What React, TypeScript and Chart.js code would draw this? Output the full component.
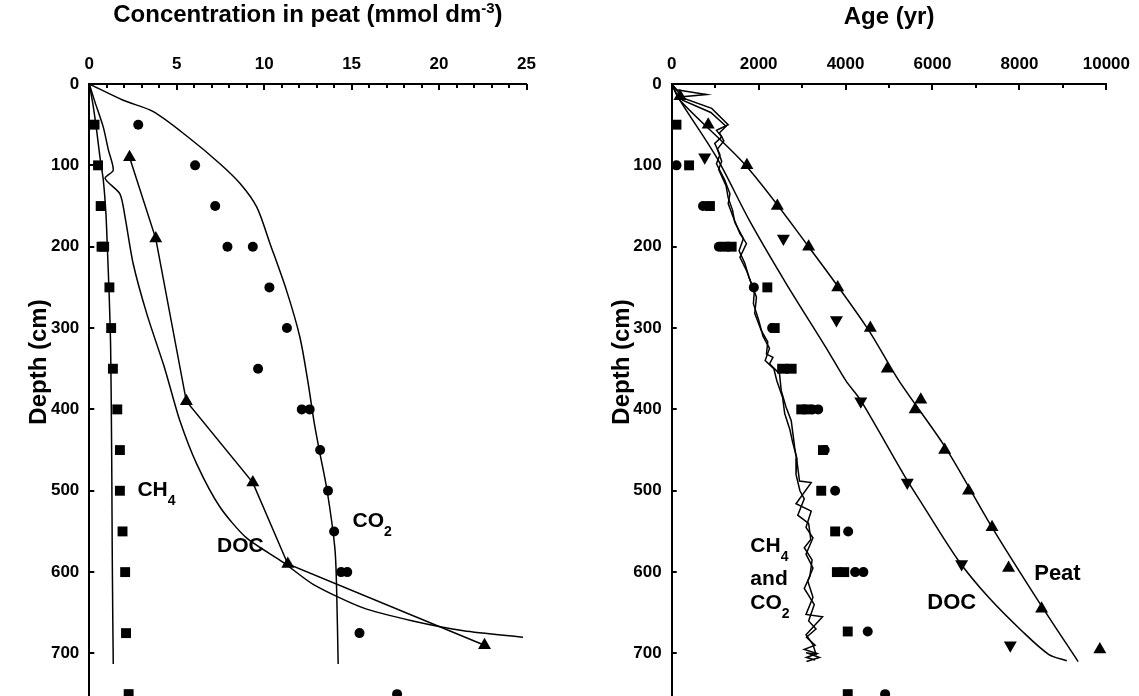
import React, { useEffect, useRef } from 'react';
import { Chart, registerables } from 'chart.js';
Chart.register(...registerables);

const FONT = '"Liberation Sans", Arial, Helvetica, sans-serif';

// ---------------- Left panel: concentration in peat ----------------
const concCH4Depth = [50, 100, 150, 200, 200, 250, 300, 350, 400, 450, 500, 550, 600, 675, 750];
const concCH4 = [0.3, 0.5, 0.65, 0.7, 0.85, 1.15, 1.25, 1.35, 1.6, 1.75, 1.75, 1.9, 2.05, 2.1, 2.25];

const concCO2Depth = [50, 100, 150, 200, 200, 250, 300, 350, 400, 400, 450, 500, 550, 600, 600, 675, 750];
const concCO2 = [2.8, 6.05, 7.2, 7.9, 9.35, 10.3, 11.3, 9.65, 12.15, 12.6, 13.2, 13.65, 14.0, 14.4, 14.75, 15.45, 17.6];

const concDOCDepth = [90, 190, 390, 490, 590, 690];
const concDOC = [2.3, 3.8, 5.55, 9.35, 11.35, 22.6];

const modelCH4Depth = [0, 28, 57, 90, 118, 159, 200, 262, 324, 430, 490, 570, 650, 713];
const modelCH4 = [0, 0.23, 0.42, 0.61, 0.8, 0.95, 1.03, 1.14, 1.22, 1.27, 1.29, 1.31, 1.34, 1.37];

const modelDOCDepth = [0, 22, 53, 81, 106, 116, 135, 163, 221, 282, 344, 365, 414, 467, 520, 558, 588, 615, 644, 660, 672, 680];
const modelDOC = [0, 0.32, 0.8, 1.09, 1.37, 0.9, 1.75, 2.04, 2.51, 3.28, 4.23, 4.52, 5.18, 6.14, 7.47, 8.99, 11.09, 12.8, 15.66, 18.5, 21.4, 24.8];

const modelCO2Depth = [0, 20, 34, 67, 98, 122, 151, 196, 254, 311, 366, 415, 450, 500, 570, 619, 713];
const modelCO2 = [0, 1.94, 3.66, 5.75, 7.47, 8.61, 9.57, 10.33, 11.28, 12.04, 12.5, 12.85, 13.15, 13.6, 14.04, 14.14, 14.23];

const concTickMax = 25;
const concTickStep = 5;
const concMinorStep = 1;

// ---------------- Right panel: age ----------------
const ageCH4Depth = [50, 100, 150, 200, 200, 250, 300, 350, 350, 400, 400, 450, 500, 550, 600, 600, 673, 750];
const ageCH4 = [110, 400, 880, 1220, 1380, 2200, 2370, 2540, 2760, 2980, 3120, 3480, 3440, 3760, 3800, 3970, 4050, 4050];

const ageCO2Depth = [100, 150, 200, 250, 300, 350, 400, 400, 450, 500, 550, 600, 600, 673, 750];
const ageCO2 = [110, 720, 1085, 1890, 2310, 2650, 3240, 3370, 3520, 3760, 4060, 4220, 4410, 4510, 4910];

const agePeatDepth = [15, 50, 100, 150, 200, 250, 300, 350, 388, 400, 450, 500, 545, 595, 645, 695];
const agePeat = [190, 840, 1730, 2430, 3150, 3820, 4570, 4960, 5730, 5600, 6280, 6830, 7370, 7750, 8510, 9850];

const ageDOCDepth = [90, 190, 290, 390, 490, 590, 690];
const ageDOC = [760, 2570, 3790, 4350, 5420, 6670, 7790];

const peatModelDepth = [0, 20, 100, 200, 300, 365, 447, 545, 636, 710];
const peatModelAge = [0, 190, 1700, 3150, 4500, 5230, 6300, 7370, 8440, 9350];

const docModelDepth = [0, 20, 90, 168, 245, 324, 365, 389, 484, 517, 586, 631, 672, 701, 709];
const docModelAge = [0, 190, 1030, 1790, 2630, 3550, 4010, 4350, 5380, 5770, 6600, 7290, 8050, 8670, 9090];

const ch4AgeLineDepth = [0, 7, 13, 16, 30, 50, 57, 65, 73, 87, 98, 118, 135, 147, 163, 184, 196, 213, 229, 245, 262, 282, 303, 317, 332, 336, 344, 356, 377, 397, 414, 447, 471, 488, 490, 516, 525, 545, 558, 578, 595, 611, 631, 652, 655, 677, 689, 701, 699, 705, 710];
const ch4AgeLine = [0, 115, 800, 190, 920, 1300, 1030, 1150, 990, 1110, 1030, 1220, 1340, 1300, 1410, 1570, 1720, 1570, 1720, 1830, 1950, 1910, 2060, 2210, 2180, 2330, 2250, 2480, 2520, 2630, 2750, 2830, 2900, 2940, 3210, 2860, 3210, 3090, 3250, 3090, 3250, 3130, 3250, 3090, 3470, 3090, 3250, 3320, 3090, 3400, 3100];

const co2AgeLineDepth = [0, 10, 20, 35, 52, 60, 70, 80, 95, 105, 125, 140, 155, 170, 190, 205, 220, 238, 255, 270, 290, 310, 325, 340, 350, 365, 385, 405, 425, 440, 460, 480, 500, 510, 530, 540, 560, 570, 585, 605, 620, 640, 660, 670, 680, 690, 695, 700, 705, 708];
const co2AgeLine = [0, 150, 250, 900, 1250, 1100, 1200, 1050, 1150, 1080, 1250, 1300, 1400, 1450, 1650, 1550, 1680, 1780, 1900, 1880, 2000, 2100, 2250, 2150, 2350, 2420, 2550, 2600, 2720, 2780, 2880, 2860, 2950, 3050, 2900, 3150, 3200, 3050, 3230, 3180, 3050, 3280, 3150, 3320, 3100, 3300, 3050, 3350, 3100, 3300];

const ageTickMax = 10000;
const ageTickStep = 2000;
const ageMinorStep = 1000;

const depthMax = 800;
const depthStep = 100;

// ---------------- Annotations ----------------
type Seg = { t: string; size: number; dy: number };

const leftLabelX = [2.75, 7.3, 15.05];
const leftLabelY = [497, 566, 535];
const leftLabelText: Seg[][] = [
  [{ t: 'CH', size: 21, dy: 0 }, { t: '4', size: 14, dy: 9 }],
  [{ t: 'DOC', size: 21, dy: 0 }],
  [{ t: 'CO', size: 21, dy: 0 }, { t: '2', size: 14, dy: 9 }],
];

const rightLabelX = [1810, 1810, 1810, 5880, 8340];
const rightLabelY = [566, 606, 636, 636, 600];
const rightLabelText: Seg[][] = [
  [{ t: 'CH', size: 21, dy: 0 }, { t: '4', size: 14, dy: 9 }],
  [{ t: 'and', size: 21, dy: 0 }],
  [{ t: 'CO', size: 21, dy: 0 }, { t: '2', size: 14, dy: 9 }],
  [{ t: 'DOC', size: 22, dy: 0 }],
  [{ t: 'Peat', size: 22, dy: 0 }],
];

const leftTitle: Seg[] = [
  { t: 'Concentration in peat (mmol dm', size: 24, dy: 0 },
  { t: '-3', size: 15, dy: -9 },
  { t: ')', size: 24, dy: 0 },
];
const rightTitle: Seg[] = [{ t: 'Age (yr)', size: 24, dy: 0 }];
const yTitleText = 'Depth (cm)';

// ---------------- helpers ----------------
const pts = (xs: number[], ys: number[]) => xs.map((x, i) => ({ x, y: ys[i] }));

function segFont(size: number) {
  return `bold ${size}px ${FONT}`;
}

function drawSegs(ctx: CanvasRenderingContext2D, segs: Seg[], x: number, y: number, align: 'left' | 'center') {
  const ws = segs.map((s) => {
    ctx.font = segFont(s.size);
    return ctx.measureText(s.t).width;
  });
  const total = ws.reduce((a, b) => a + b, 0);
  let cx = align === 'center' ? x - total / 2 : x;
  ctx.textAlign = 'left';
  ctx.textBaseline = 'alphabetic';
  ctx.fillStyle = '#000';
  segs.forEach((s, i) => {
    ctx.font = segFont(s.size);
    ctx.fillText(s.t, cx, y + s.dy);
    cx += ws[i];
  });
}

function makeDecor(opts: {
  title: Seg[];
  titleBaseline: number;
  yTitleX: number;
  yTitleY: number;
  minorStep: number;
  majorStep: number;
  xMax: number;
  labelX: number[];
  labelY: number[];
  labelText: Seg[][];
}) {
  return {
    id: 'decor',
    afterDraw(chart: any) {
      const ctx: CanvasRenderingContext2D = chart.ctx;
      const xs = chart.scales.x;
      const ys = chart.scales.y;
      const area = chart.chartArea;
      ctx.save();
      ctx.strokeStyle = '#000';
      ctx.lineWidth = 2;
      for (let v = 0; v <= opts.xMax + 1e-9; v += opts.minorStep) {
        const px = Math.round(xs.getPixelForValue(v));
        const major = Math.abs(v / opts.majorStep - Math.round(v / opts.majorStep)) < 1e-6;
        const len = major ? 5 : 3;
        ctx.beginPath();
        ctx.moveTo(px, area.top);
        ctx.lineTo(px, area.top + 1 + len);
        ctx.stroke();
      }
      for (let d = depthStep; d <= depthMax; d += depthStep) {
        const py = Math.round(ys.getPixelForValue(d));
        ctx.beginPath();
        ctx.moveTo(area.left, py);
        ctx.lineTo(area.left + 5, py);
        ctx.stroke();
      }
      drawSegs(ctx, opts.title, (area.left + area.right) / 2, opts.titleBaseline, 'center');
      ctx.save();
      ctx.translate(opts.yTitleX, opts.yTitleY);
      ctx.rotate(-Math.PI / 2);
      ctx.font = segFont(24);
      ctx.textAlign = 'center';
      ctx.textBaseline = 'middle';
      ctx.fillStyle = '#000';
      ctx.fillText(yTitleText, 0, 0);
      ctx.restore();
      opts.labelText.forEach((segs, i) => {
        const px = xs.getPixelForValue(opts.labelX[i]);
        const py = ys.getPixelForValue(opts.labelY[i]);
        drawSegs(ctx, segs, px, py + segs[0].size * 0.36, 'left');
      });
      ctx.restore();
    },
  };
}

const tickFont = { family: FONT, size: 17, weight: 'bold' as const };

function pointSet(data: { x: number; y: number }[], style: string, radius: number, rotation = 0) {
  return {
    data,
    showLine: false,
    pointStyle: style,
    pointRadius: radius,
    pointRotation: rotation,
    pointBackgroundColor: '#000',
    pointBorderColor: '#000',
    pointBorderWidth: 0,
    clip: false,
  };
}

function lineSet(data: { x: number; y: number }[], tension: number) {
  return {
    data,
    showLine: true,
    pointRadius: 0,
    borderColor: '#000',
    borderWidth: 1.5,
    tension,
    fill: false,
  };
}

function makeConfig(p: {
  datasets: any[];
  xMax: number;
  xStep: number;
  padding: any;
  yWidth: number;
  decor: any;
}) {
  return {
    type: 'scatter' as const,
    data: { datasets: p.datasets },
    options: {
      responsive: false,
      animation: false as const,
      layout: { padding: p.padding },
      plugins: { legend: { display: false }, tooltip: { enabled: false } },
      scales: {
        x: {
          type: 'linear' as const,
          position: 'top' as const,
          min: 0,
          max: p.xMax,
          ticks: { stepSize: p.xStep, padding: 9, font: tickFont, color: '#000', callback: (v: any) => String(v) },
          grid: { display: false, drawTicks: false },
          border: { display: true, color: '#000', width: 2 },
          afterFit: (s: any) => {
            s.height = 84;
          },
        },
        y: {
          type: 'linear' as const,
          reverse: true,
          min: 0,
          max: depthMax,
          ticks: { stepSize: depthStep, padding: 10, font: tickFont, color: '#000', callback: (v: any) => String(v) },
          grid: { display: false, drawTicks: false },
          border: { display: true, color: '#000', width: 2 },
          afterFit: (s: any) => {
            s.width = p.yWidth;
          },
        },
      },
    },
    plugins: [p.decor],
  };
}

export default function App() {
  const leftRef = useRef<HTMLCanvasElement>(null);
  const rightRef = useRef<HTMLCanvasElement>(null);

  useEffect(() => {
    const left = new Chart(
      leftRef.current as HTMLCanvasElement,
      makeConfig({
        datasets: [
          lineSet(pts(modelCH4, modelCH4Depth), 0.3),
          lineSet(pts(modelDOC, modelDOCDepth), 0.25),
          lineSet(pts(modelCO2, modelCO2Depth), 0.3),
          lineSet(pts(concDOC, concDOCDepth), 0),
          pointSet(pts(concCH4, concCH4Depth), 'rect', 7),
          pointSet(pts(concCO2, concCO2Depth), 'circle', 5),
          pointSet(pts(concDOC, concDOCDepth), 'triangle', 7.5),
        ],
        xMax: concTickMax,
        xStep: concTickStep,
        padding: { left: 0, top: 0, right: 42.5, bottom: 6 },
        yWidth: 89.3,
        decor: makeDecor({
          title: leftTitle,
          titleBaseline: 22,
          yTitleX: 39,
          yTitleY: 362,
          minorStep: concMinorStep,
          majorStep: concTickStep,
          xMax: concTickMax,
          labelX: leftLabelX,
          labelY: leftLabelY,
          labelText: leftLabelText,
        }),
      }) as any
    );
    const right = new Chart(
      rightRef.current as HTMLCanvasElement,
      makeConfig({
        datasets: [
          lineSet(pts(ch4AgeLine, ch4AgeLineDepth), 0),
          lineSet(pts(co2AgeLine, co2AgeLineDepth), 0),
          lineSet(pts(peatModelAge, peatModelDepth), 0.3),
          lineSet(pts(docModelAge, docModelDepth), 0.3),
          pointSet(pts(ageCH4, ageCH4Depth), 'rect', 7),
          pointSet(pts(ageCO2, ageCO2Depth), 'circle', 5),
          pointSet(pts(agePeat, agePeatDepth), 'triangle', 7.5),
          pointSet(pts(ageDOC, ageDOCDepth), 'triangle', 7.5, 180),
        ],
        xMax: ageTickMax,
        xStep: ageTickStep,
        padding: { left: 13.7, top: 0, right: 30.7, bottom: 6 },
        yWidth: 89,
        decor: makeDecor({
          title: rightTitle,
          titleBaseline: 24,
          yTitleX: 53,
          yTitleY: 362,
          minorStep: ageMinorStep,
          majorStep: ageTickStep,
          xMax: ageTickMax,
          labelX: rightLabelX,
          labelY: rightLabelY,
          labelText: rightLabelText,
        }),
      }) as any
    );
    return () => {
      left.destroy();
      right.destroy();
    };
  }, []);

  return (
    <div style={{ position: 'fixed', left: 0, top: 0, width: 1139, height: 696, overflow: 'hidden', background: '#fff' }}>
      <canvas ref={leftRef} width={569} height={755} style={{ position: 'absolute', left: 0, top: 0 }} />
      <canvas ref={rightRef} width={570} height={755} style={{ position: 'absolute', left: 569, top: 0 }} />
    </div>
  );
}
